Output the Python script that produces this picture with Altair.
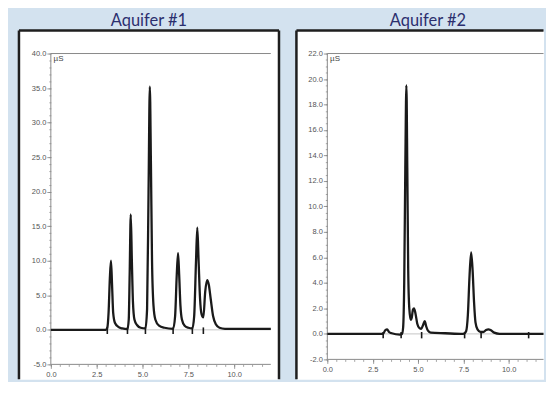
import altair as alt
import pandas as pd

TITLES = ["Aquifer #1", "Aquifer #2"]
UNIT = "µS"

# Aquifer #1 chromatogram (retention time, min / conductivity, µS)
a1_time = [0.0, 3.00, 3.08, 3.15, 3.22, 3.28, 3.34, 3.40, 3.50, 3.70, 3.90, 4.18, 4.25, 4.30,
           4.36, 4.42, 4.48, 4.56, 4.70, 4.90, 5.16, 5.25, 5.33, 5.40, 5.46, 5.52, 5.60, 5.70,
           5.90, 6.20, 6.67, 6.78, 6.87, 6.94, 7.00, 7.07, 7.15, 7.30, 7.50, 7.72, 7.82, 7.92,
           7.99, 8.06, 8.14, 8.22, 8.32, 8.42, 8.53, 8.62, 8.72, 8.85, 9.00, 9.20, 9.50, 12.0]
a1_signal = [0.0, 0.0, 0.3, 2.5, 7.5, 10.0, 6.5, 2.5, 1.0, 0.4, 0.2, 0.1, 1.5, 8.0,
             16.7, 10.0, 4.0, 1.5, 0.7, 0.3, 0.2, 3.0, 20.0, 35.2, 24.0, 10.0, 3.5, 1.5,
             0.6, 0.3, 0.15, 2.0, 8.0, 11.1, 8.0, 3.5, 1.5, 0.6, 0.3, 0.2, 2.0, 10.0,
             14.8, 10.0, 4.5, 2.3, 1.8, 5.5, 7.2, 6.5, 4.5, 2.0, 0.8, 0.3, 0.15, 0.15]
a1_markers = [3.08, 4.18, 5.16, 6.67, 7.72, 8.32]

# Aquifer #2 chromatogram
a2_time = [0.0, 3.00, 3.10, 3.20, 3.30, 3.40, 3.55, 4.00, 4.12, 4.18, 4.24, 4.30, 4.36, 4.41,
           4.46, 4.52, 4.60, 4.66, 4.72, 4.78, 4.86, 4.96, 5.08, 5.18, 5.28, 5.37, 5.45, 5.55,
           5.70, 6.50, 7.50, 7.65, 7.75, 7.84, 7.93, 8.01, 8.09, 8.17, 8.28, 8.45, 8.60, 8.75,
           8.88, 9.00, 9.20, 9.50, 13.0]
a2_signal = [0.0, 0.0, 0.05, 0.3, 0.35, 0.15, 0.05, -0.05, 0.0, 0.5, 4.0, 13.0, 19.5, 13.0,
             5.0, 2.0, 1.1, 1.3, 1.9, 2.0, 1.6, 0.8, 0.45, 0.4, 0.7, 1.0, 0.6, 0.25,
             0.1, 0.05, 0.0, 0.2, 1.5, 4.5, 6.4, 5.0, 2.5, 0.9, 0.35, 0.15, 0.15, 0.3,
             0.35, 0.3, 0.1, 0.0, 0.0]
a2_markers = [3.08, 4.07, 5.20, 7.57, 8.48, 11.10]

# axis tick labels
x_labels = [0.0, 2.5, 5.0, 7.5, 10.0]
a1_ylabels = [-5.0, 0.0, 5.0, 10.0, 15.0, 20.0, 25.0, 30.0, 35.0, 40.0]
a2_ylabels = [-2.0, 0.0, 2.0, 4.0, 6.0, 8.0, 10.0, 12.0, 14.0, 16.0, 18.0, 20.0, 22.0]

FRAME = "#1e1e1e"
AXIS = "#808080"
LABEL = "#555555"
TRACE = "#1a1a1a"
TITLE_COLOR = "#2b2f6e"


def minor(lo, hi, step):
    n = int(round((hi - lo) / step))
    return [round(lo + i * step, 3) for i in range(n + 1)]


def major_axis(orient, values, offset, pad):
    return alt.Axis(
        orient=orient, values=values, offset=offset, title=None, grid=False, domain=False,
        labelExpr="replace(format(datum.value, '.1f'), '\u2212', '-')",
        tickSize=4, tickColor=AXIS, tickWidth=0.8, labelColor=LABEL, labelFontSize=7.5,
        labelFont="Liberation Sans", labelPadding=pad, labelOverlap=False,
    )


def minor_axis(orient, values, offset):
    return alt.Axis(
        orient=orient, values=values, offset=offset, title=None, grid=False, domain=False,
        labels=False, tickSize=2, tickColor=AXIS, tickWidth=0.7,
    )


def panel(title, t, s, markers, mlo, mhi, xdom, ydom, ylabels, yminor,
          xoff, yoff, w, h, right_frame, dx, unit_y):
    xs = alt.Scale(domain=xdom, nice=False, zero=False)
    ys = alt.Scale(domain=ydom, nice=False, zero=False)
    yrange = [ylabels[0], ylabels[-1]]

    frame_rows = [
        {"x": xdom[0], "x2": xdom[0], "y": ydom[0], "y2": ydom[1]},
        {"x": xdom[0], "x2": xdom[1], "y": ydom[1], "y2": ydom[1]},
    ]
    if right_frame:
        frame_rows.append({"x": xdom[1], "x2": xdom[1], "y": ydom[0], "y2": ydom[1]})
    frame = alt.Chart(pd.DataFrame(frame_rows)).mark_rule(
        color=FRAME, strokeWidth=2.5
    ).encode(
        x=alt.X("x:Q", scale=xs, axis=None), x2="x2:Q",
        y=alt.Y("y:Q", scale=ys, axis=None), y2="y2:Q",
    )

    xend = 12.0 if right_frame else xdom[1]
    line_rows = [
        {"x": 0.0, "x2": 0.0, "y": yrange[0], "y2": yrange[1], "k": "axis"},
        {"x": 0.0, "x2": xend, "y": yrange[0], "y2": yrange[0], "k": "axis"},
        {"x": 0.0, "x2": xend, "y": yrange[1], "y2": yrange[1], "k": "axis"},
        {"x": 0.0, "x2": xend, "y": 0.0, "y2": 0.0, "k": "base"},
    ]
    lines = alt.Chart(pd.DataFrame(line_rows)).mark_rule().encode(
        x=alt.X("x:Q", scale=xs, axis=None), x2="x2:Q",
        y=alt.Y("y:Q", scale=ys, axis=None), y2="y2:Q",
        color=alt.Color("k:N", scale=alt.Scale(domain=["axis", "base"], range=["#8a8a8a", "#b8b8b8"]), legend=None),
        strokeWidth=alt.StrokeWidth("k:N", scale=alt.Scale(domain=["axis", "base"], range=[1.0, 0.8]), legend=None),
    )

    trace = alt.Chart(pd.DataFrame({"t": t, "s": s})).mark_line(
        color=TRACE, strokeWidth=2.3, interpolate="monotone", clip=True
    ).encode(
        x=alt.X("t:Q", scale=xs, axis=major_axis("bottom", x_labels, xoff, 2)),
        y=alt.Y("s:Q", scale=ys, axis=major_axis("left", ylabels, yoff, 1)),
    )

    mk = alt.Chart(pd.DataFrame({"t": markers, "lo": [mlo] * len(markers), "hi": [mhi] * len(markers)})).mark_rule(
        color=TRACE, strokeWidth=1.6
    ).encode(
        x=alt.X("t:Q", scale=xs, axis=None),
        y=alt.Y("lo:Q", scale=ys, axis=None), y2="hi:Q",
    )

    unit = alt.Chart(pd.DataFrame({"x": [0.15], "y": [unit_y], "u": [UNIT]})).mark_text(
        align="left", baseline="middle", fontSize=8, font="Liberation Sans", color="#444444"
    ).encode(
        x=alt.X("x:Q", scale=xs, axis=minor_axis("bottom", minor(0, 11.5, 0.5), xoff)),
        y=alt.Y("y:Q", scale=ys, axis=minor_axis("left", yminor, yoff)),
        text="u:N",
    )

    return alt.layer(frame, lines, trace, mk, unit).resolve_axis(
        x="independent", y="independent"
    ).properties(
        width=w, height=h,
        title=alt.TitleParams(title, fontSize=16.5, font="Lato", fontWeight="normal",
                              color=TITLE_COLOR, anchor="middle", offset=0, dx=dx),
    )


left = panel(TITLES[0], a1_time, a1_signal, a1_markers, -0.6, 0.35,
             [-1.739, 12.446], [-7.164, 43.317], a1_ylabels,
             minor(-5, 40, 1), -15, -32, 261, 350, True, 0, 39.2)
right = panel(TITLES[1], a2_time, a2_signal, a2_markers, -0.35, 0.15,
              [-1.703, 11.92], [-3.564, 23.798], a2_ylabels,
              minor(-2, 22, 0.5), -20, -31, 248, 350, False, 8, 21.6)

chart = alt.hconcat(left, right, spacing=13.5).properties(
    padding={"left": 9, "top": 3, "right": 0, "bottom": 0},
    background="#d3e2ef",
).configure_view(fill="white", stroke="transparent")

chart.save("out.html", embed_options={"renderer": "svg", "actions": False})
